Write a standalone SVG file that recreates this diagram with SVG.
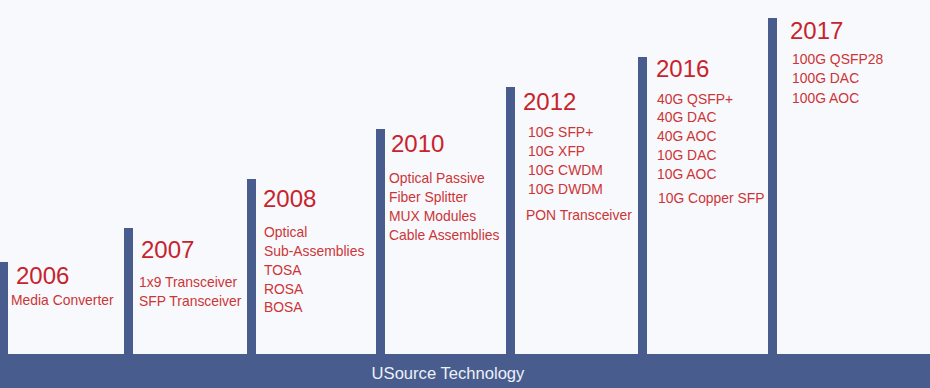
<svg xmlns="http://www.w3.org/2000/svg" width="930" height="388" viewBox="0 0 930 388">
<style>
.bar{fill:#485d8e}
.yr{font-family:"Liberation Sans",Arial,sans-serif;font-size:24px;fill:#c8232c}
.it{font-family:"Liberation Sans",Arial,sans-serif;font-size:13.9px;fill:#cc3535}
.band{font-family:"Liberation Sans",Arial,sans-serif;font-size:16.6px;fill:#eef1f8}
</style>
<rect width="930" height="388" fill="#f8f9fd"/>
<g id="connectors">
<rect class="bar" x="0" y="354" width="930" height="34"/>
<text class="band" x="448" y="379" text-anchor="middle">USource Technology</text>
</g>
<g id="y2006">
<rect class="bar" x="0" y="262" width="8" height="92"/>
<text class="yr" x="16" y="284">2006</text>
<text class="it" x="11" y="305">Media Converter</text>
</g>
<g id="y2007">
<rect class="bar" x="124" y="228" width="9" height="126"/>
<text class="yr" x="141" y="258">2007</text>
<text class="it" x="139" y="287">1x9 Transceiver</text>
<text class="it" x="139" y="306">SFP Transceiver</text>
</g>
<g id="y2008">
<rect class="bar" x="247" y="179" width="9" height="175"/>
<text class="yr" x="263" y="207">2008</text>
<text class="it" x="264" y="237">Optical</text>
<text class="it" x="264" y="256">Sub-Assemblies</text>
<text class="it" x="264" y="275">TOSA</text>
<text class="it" x="264" y="293.5">ROSA</text>
<text class="it" x="264" y="312">BOSA</text>
</g>
<g id="y2010">
<rect class="bar" x="376" y="129" width="9" height="225"/>
<text class="yr" x="391" y="152">2010</text>
<text class="it" x="389" y="183">Optical Passive</text>
<text class="it" x="389" y="202">Fiber Splitter</text>
<text class="it" x="389" y="221">MUX Modules</text>
<text class="it" x="389" y="240">Cable Assemblies</text>
</g>
<g id="y2012">
<rect class="bar" x="506" y="87" width="9" height="267"/>
<text class="yr" x="523" y="110">2012</text>
<text class="it" x="528" y="137">10G SFP+</text>
<text class="it" x="528" y="156">10G XFP</text>
<text class="it" x="528" y="175">10G CWDM</text>
<text class="it" x="528" y="194">10G DWDM</text>
<text class="it" x="526" y="220">PON Transceiver</text>
</g>
<g id="y2016">
<rect class="bar" x="638" y="57" width="9" height="297"/>
<text class="yr" x="656" y="77">2016</text>
<text class="it" x="657" y="104">40G QSFP+</text>
<text class="it" x="657" y="122">40G DAC</text>
<text class="it" x="657" y="141">40G AOC</text>
<text class="it" x="657" y="160">10G DAC</text>
<text class="it" x="657" y="179">10G AOC</text>
<text class="it" x="658" y="203">10G Copper SFP</text>
</g>
<g id="y2017">
<rect class="bar" x="768" y="18" width="9" height="336"/>
<text class="yr" x="790" y="39">2017</text>
<text class="it" x="792" y="64">100G QSFP28</text>
<text class="it" x="792" y="83">100G DAC</text>
<text class="it" x="792" y="103">100G AOC</text>
</g>
</svg>
